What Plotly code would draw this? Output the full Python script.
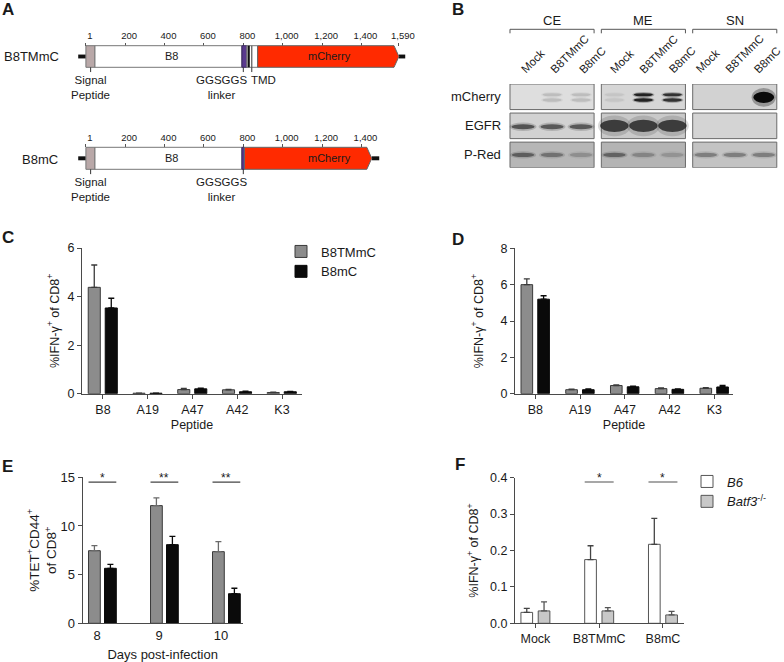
import plotly.graph_objects as go

W, H = 784, 662
FONT = "Liberation Sans, Arial, sans-serif"
TXT = "#1a1a1a"
AX = "#4a4a4a"

# ---------------- DATA ----------------
# Panel A: construct maps (residue coordinates)
a_ticks_top = [1, 200, 400, 600, 800, 1000, 1200, 1400, 1590]
a_ticklabels_top = ["1", "200", "400", "600", "800", "1,000", "1,200", "1,400", "1,590"]
a_ticks_bot = [1, 200, 400, 600, 800, 1000, 1200, 1400]
a_ticklabels_bot = ["1", "200", "400", "600", "800", "1,000", "1,200", "1,400"]
stub_left = [-38, 1]
signal_peptide = [1, 47]
b8_domain = [47, 793]
b8tmmc_linker = [793, 818]
b8tmmc_tmd = [818, 873]
b8tmmc_tmd_core = [822, 833]
b8tmmc_tmd_edge = 843
b8tmmc_mcherry = [873, 1590]
b8tmmc_stub_right = [1590, 1622]
b8mc_linker = [793, 806]
b8mc_mcherry = [806, 1452]
b8mc_stub_right = [1452, 1490]
arrow_head = 25
pointer_signal = 25
pointer_linker = 800
pointer_tmd = 843

# Panel B: western blot (relative band intensities per group x lane)
blot_groups = ["CE", "ME", "SN"]
blot_lanes = ["Mock", "B8TMmC", "B8mC"]
blot_rows = ["mCherry", "EGFR", "P-Red"]
blot_mcherry = [[0.0, 0.13, 0.13], [0.06, 0.9, 0.8], [0.0, 0.0, 1.0]]
blot_egfr = [[0.8, 0.75, 0.75], [1.0, 1.0, 1.0], [0.0, 0.0, 0.0]]
blot_pred = [[0.6, 0.45, 0.25], [0.55, 0.3, 0.2], [0.4, 0.4, 0.4]]
blot_bg = [["#dedede", "#d6d6d6", "#d2d2d2"],
           ["#d2d2d2", "#c9c9c9", "#d4d4d4"],
           ["#b6b6b6", "#b4b4b4", "#c3c3c3"]]

# Panel C
peptides = ["B8", "A19", "A47", "A42", "K3"]
c_b8tmmc = [4.38, 0.02, 0.17, 0.16, 0.05]
c_b8tmmc_err = [0.92, 0.005, 0.05, 0.02, 0.01]
c_b8mc = [3.53, 0.02, 0.20, 0.08, 0.08]
c_b8mc_err = [0.40, 0.005, 0.03, 0.02, 0.01]

# Panel D
d_b8tmmc = [6.0, 0.22, 0.45, 0.28, 0.30]
d_b8tmmc_err = [0.32, 0.03, 0.03, 0.04, 0.03]
d_b8mc = [5.2, 0.22, 0.38, 0.24, 0.37]
d_b8mc_err = [0.19, 0.04, 0.04, 0.03, 0.08]

# Panel E
days = [8, 9, 10]
e_b8tmmc = [7.46, 12.09, 7.36]
e_b8tmmc_err = [0.52, 0.79, 1.03]
e_b8mc = [5.65, 8.08, 3.04]
e_b8mc_err = [0.41, 0.86, 0.56]
e_sig = ["*", "**", "**"]
e_sig_level = 14.5

# Panel F
f_groups = ["Mock", "B8TMmC", "B8mC"]
f_b6 = [0.030, 0.175, 0.217]
f_b6_err = [0.011, 0.038, 0.071]
f_batf3 = [0.034, 0.034, 0.023]
f_batf3_err = [0.025, 0.009, 0.010]
f_sig = ["", "*", "*"]
f_sig_level = 0.388

# ---------------- helpers ----------------
def px_x(p):
    return p / W

def px_y(p):
    return 1 - p / H

def dom_x(a, b):
    return [px_x(a), px_x(b)]

def dom_y(top, bottom):
    return [px_y(bottom), px_y(top)]

shapes = []
annotations = []

def ann(text, x, y, xref="paper", yref="paper", size=12.5, **kw):
    d = dict(text=text, x=x, y=y, xref=xref, yref=yref, showarrow=False,
             xanchor="center", yanchor="middle",
             font=dict(size=size, color=TXT, family=FONT))
    d.update(kw)
    annotations.append(d)

fig = go.Figure()

# ---------------- Panel A ----------------
A_XDOM = (70, 410)
A_SCALE = 0.197
A_REF_PX, A_REF_U = 243.3, 800
a_xrange = [A_REF_U + (A_XDOM[0] - A_REF_PX) / A_SCALE,
            A_REF_U + (A_XDOM[1] - A_REF_PX) / A_SCALE]

def a_yrange(dom_top, dom_bot, bar_top, bar_bot):
    s = bar_bot - bar_top
    return [-0.5 - (dom_bot - bar_bot) / s, 0.5 + (bar_top - dom_top) / s]

def rect(xr, yr, x0, x1, y0, y1, fill, line="#666666", lw=1):
    shapes.append(dict(type="rect", xref=xr, yref=yr, x0=x0, x1=x1, y0=y0, y1=y1,
                       fillcolor=fill, line=dict(color=line, width=lw), layer="above"))

def vline(xr, yr, x, y0, y1, color="#333333", lw=1):
    shapes.append(dict(type="line", xref=xr, yref=yr, x0=x, x1=x, y0=y0, y1=y1,
                       line=dict(color=color, width=lw), layer="above"))

def construct(xr, yr, linker, mcherry, stub_r, tmd=None):
    rect(xr, yr, stub_left[0], stub_left[1], -0.09, 0.09, "#111111", "#111111", 0)
    rect(xr, yr, stub_r[0], stub_r[1], -0.09, 0.09, "#111111", "#111111", 0)
    rect(xr, yr, signal_peptide[0], signal_peptide[1], -0.5, 0.5, "#b9a8a8", "#777777")
    rect(xr, yr, b8_domain[0], b8_domain[1], -0.5, 0.5, "#ffffff", "#777777")
    rect(xr, yr, linker[0], linker[1], -0.5, 0.5, "#5a3a8e", "#3a2a60")
    if tmd is not None:
        rect(xr, yr, tmd[0], tmd[1], -0.5, 0.5, "#ffffff", "#777777")
        rect(xr, yr, b8tmmc_tmd_core[0], b8tmmc_tmd_core[1], -0.5, 0.5, "#111111", "#111111", 0)
        vline(xr, yr, b8tmmc_tmd_edge, -0.5, 0.5, "#555555", 1.2)
    m0, m1 = mcherry
    path = (f"M {m0},-0.5 L {m1 - arrow_head},-0.5 L {m1},0 "
            f"L {m1 - arrow_head},0.5 L {m0},0.5 Z")
    shapes.append(dict(type="path", xref=xr, yref=yr, path=path, fillcolor="#ff2a00",
                       line=dict(color="#666666", width=1), layer="above"))

def a_xaxis(ticks, labels, pos_px):
    return dict(domain=dom_x(*A_XDOM), range=a_xrange, side="top", anchor="free",
                position=px_y(pos_px), showline=False, showgrid=False, zeroline=False,
                ticks="outside", ticklen=3, tickcolor="#555", tickwidth=1,
                tickvals=ticks, ticktext=labels, ticklabelshift=4, automargin=False,
                tickfont=dict(size=9.5, color=TXT, family=FONT))

top_dom = (28, 105)
top_bar = (45.7, 67.3)
bot_dom = (130, 207)
bot_bar = (147.3, 169.3)
fig.update_layout(
    xaxis=a_xaxis(a_ticks_top, a_ticklabels_top, top_bar[0]),
    yaxis=dict(domain=dom_y(*top_dom), range=a_yrange(*top_dom, *top_bar), visible=False,
               anchor="x", automargin=False),
    xaxis2=a_xaxis(a_ticks_bot, a_ticklabels_bot, bot_bar[0]),
    yaxis2=dict(domain=dom_y(*bot_dom), range=a_yrange(*bot_dom, *bot_bar), visible=False,
                anchor="x2", automargin=False),
)
construct("x", "y", b8tmmc_linker, b8tmmc_mcherry, b8tmmc_stub_right, tmd=b8tmmc_tmd)
construct("x2", "y2", b8mc_linker, b8mc_mcherry, b8mc_stub_right)

for xr, yr in (("x", "y"), ("x2", "y2")):
    vline(xr, yr, pointer_signal, -0.5, -0.72, "#333333", 1)
    vline(xr, yr, pointer_linker, -0.5, -0.72, "#333333", 1)
    ann("B8", 437, 0, xr, yr, size=11)
    ann("mCherry", 1240, 0, xr, yr, size=11)
    ann("Signal<br>Peptide", 22, -0.72, xr, yr, size=11.5, yanchor="top")
    ann("GGSGGS<br>linker", 690, -0.72, xr, yr, size=11.5, yanchor="top")
vline("x", "y", pointer_tmd, -0.5, -0.72, "#333333", 1)
ann("TMD", 900, -0.72, "x", "y", size=11.5, yanchor="top")
ann("B8TMmC", px_x(32), px_y(56.7), size=13)
ann("B8mC", px_x(40), px_y(159.3), size=13)

# ---------------- Panel B ----------------
B_XDOM = (505, 780)
lane_px = 29.0
group_step = 3.15
lane_label_shift = [-7, -9, -15]
b_xrange = [-0.622, -0.622 + (B_XDOM[1] - B_XDOM[0]) / lane_px]
fig.update_layout(
    xaxis3=dict(domain=dom_x(*B_XDOM), range=b_xrange, visible=False, anchor="y3",
                automargin=False),
    yaxis3=dict(domain=dom_y(84, 167.7), range=[2.44, -0.44], visible=False, anchor="x3",
                automargin=False),
)

def band(xc, yc, w, h, a, color="20,20,20", halo=0.3):
    if a <= 0:
        return
    shapes.append(dict(type="circle", xref="x3", yref="y3", x0=xc - w * 0.58, x1=xc + w * 0.58,
                       y0=yc - h * 0.85, y1=yc + h * 0.85,
                       fillcolor=f"rgba({color},{a * halo:.3f})",
                       line=dict(width=0), layer="above"))
    shapes.append(dict(type="circle", xref="x3", yref="y3", x0=xc - w / 2, x1=xc + w / 2,
                       y0=yc - h / 2, y1=yc + h / 2, fillcolor=f"rgba({color},{a:.3f})",
                       line=dict(width=0), layer="above"))

for gi, g in enumerate(blot_groups):
    gc = gi * group_step + 1
    for ri, r in enumerate(blot_rows):
        shapes.append(dict(type="rect", xref="x3", yref="y3", x0=gc - 1.45, x1=gc + 1.45,
                           y0=ri - 0.44, y1=ri + 0.44, fillcolor=blot_bg[ri][gi],
                           line=dict(color="#6a6a6a", width=1), layer="below"))
    shapes.append(dict(type="path", xref="x3", yref="paper",
                       path=f"M {gc - 1.45},{px_y(33.3)} L {gc - 1.45},{px_y(29.3)} "
                            f"L {gc + 1.45},{px_y(29.3)} L {gc + 1.45},{px_y(33.3)}",
                       line=dict(color="#555555", width=1)))
    ann(g, gc, px_y(20.7), "x3", "paper", size=13)
    for li, lane in enumerate(blot_lanes):
        lx = gi * group_step + li
        ann(lane, lx, px_y(78), "x3", "paper", size=11.5, textangle=-45,
            xanchor="left", yanchor="bottom", xshift=lane_label_shift[gi])
        a = blot_mcherry[gi][li]
        if gi < 2:
            band(lx, -0.07, 0.66, 0.11, a)
            band(lx, 0.11, 0.66, 0.12, a)
        else:
            band(lx, 0.02, 0.72, 0.38, a, "10,10,10")
        a = blot_egfr[gi][li]
        if gi == 1:
            band(lx, 1.0, 0.98, 0.42, a * 0.85, "40,40,40", halo=0.2)
        else:
            band(lx, 1.03, 0.8, 0.17, a * 0.85, "40,40,40")
        band(lx, 2.0, 0.78, 0.15, blot_pred[gi][li], "50,50,50")

for ri, r in enumerate(blot_rows):
    ann(r, px_x(503), ri, "paper", "y3", size=13, xanchor="right")

# ---------------- bar panels ----------------
GRAY = "#8c8c8c"
BLACK = "#0a0a0a"
LIGHT = "#c8c8c8"

def axis_common(**kw):
    d = dict(showgrid=False, zeroline=False, showline=True, linecolor=AX, linewidth=1.2,
             ticks="outside", ticklen=4, tickwidth=1.2, tickcolor=AX, automargin=False,
             tickfont=dict(size=12.5, color=TXT, family=FONT))
    d.update(kw)
    return d

def err(vals, color):
    return dict(type="data", symmetric=False, array=vals, arrayminus=[0] * len(vals),
                color=color, thickness=1.3, width=3)

def bars(x, y, e, xa, ya, color, edge, ecolor, name, off, wid, showlegend, legend="legend"):
    fig.add_trace(go.Bar(x=x, y=y, xaxis=xa, yaxis=ya, name=name, offset=off, width=wid,
                         marker=dict(color=color, line=dict(color=edge, width=1)),
                         error_y=err(e, ecolor), showlegend=showlegend, legend=legend))

ytitle_ifn = "%IFN-γ<sup>+</sup> of CD8<sup>+</sup>"

# C
idx = list(range(len(peptides)))
bars(idx, c_b8tmmc, c_b8tmmc_err, "x4", "y4", GRAY, "#3a3a3a", "#3a3a3a", "B8TMmC", -0.33, 0.27, True)
bars(idx, c_b8mc, c_b8mc_err, "x4", "y4", BLACK, BLACK, BLACK, "B8mC", 0.05, 0.27, True)
fig.update_layout(
    xaxis4=axis_common(domain=dom_x(82, 302), range=[-0.469, 4.447], anchor="y4",
                       tickvals=idx, ticktext=peptides,
                       title=dict(text="Peptide", standoff=4, font=dict(size=12.5))),
    yaxis4=axis_common(domain=dom_y(248, 393.7), range=[0, 6], anchor="x4",
                       tickvals=[0, 2, 4, 6],
                       title=dict(text=ytitle_ifn, standoff=5, font=dict(size=12.5))),
)

# D
bars(idx, d_b8tmmc, d_b8tmmc_err, "x5", "y5", GRAY, "#3a3a3a", "#3a3a3a", "B8TMmC", -0.32, 0.26, False)
bars(idx, d_b8mc, d_b8mc_err, "x5", "y5", BLACK, BLACK, BLACK, "B8mC", 0.055, 0.26, False)
fig.update_layout(
    xaxis5=axis_common(domain=dom_x(515, 733), range=[-0.454, 4.418], anchor="y5",
                       tickvals=idx, ticktext=peptides,
                       title=dict(text="Peptide", standoff=4, font=dict(size=12.5))),
    yaxis5=axis_common(domain=dom_y(248.3, 393.7), range=[0, 8], anchor="x5",
                       tickvals=[0, 2, 4, 6, 8],
                       title=dict(text=ytitle_ifn, standoff=14, font=dict(size=12.5))),
)

# E
bars(days, e_b8tmmc, e_b8tmmc_err, "x6", "y6", GRAY, "#3a3a3a", "#6a6a6a", "B8TMmC", -0.137, 0.19, False)
bars(days, e_b8mc, e_b8mc_err, "x6", "y6", BLACK, BLACK, BLACK, "B8mC", 0.121, 0.19, False)
fig.update_layout(
    xaxis6=axis_common(domain=dom_x(82.7, 242.7), range=[7.769, 10.35], anchor="y6",
                       tickvals=days, ticktext=[str(d) for d in days], ticks="",
                       tickfont=dict(size=13, color=TXT, family=FONT),
                       title=dict(text="Days post-infection", standoff=11, font=dict(size=13))),
    yaxis6=axis_common(domain=dom_y(477.3, 623.3), range=[0, 15], anchor="x6",
                       tickvals=[0, 5, 10, 15],
                       tickfont=dict(size=13, color=TXT, family=FONT),
                       title=dict(text="%TET<sup>+</sup>CD44<sup>+</sup><br>of CD8<sup>+</sup>",
                                  standoff=0, font=dict(size=13.5))),
)
for d, s in zip(days, e_sig):
    shapes.append(dict(type="line", xref="x6", yref="y6", x0=d - 0.137, x1=d + 0.311,
                       y0=e_sig_level, y1=e_sig_level, line=dict(color="#444444", width=1.3)))
    ann(s, d + 0.087, e_sig_level, "x6", "y6", size=12, yshift=4)

# F
fidx = list(range(len(f_groups)))
bars(fidx, f_b6, f_b6_err, "x7", "y7", "#ffffff", "#555555", "#444444", "<i>B6</i>", -0.227, 0.183, True, "legend2")
bars(fidx, f_batf3, f_batf3_err, "x7", "y7", LIGHT, "#555555", "#555555",
     "<i>Batf3</i><sup>-/-</sup>", 0.044, 0.183, True, "legend2")
fig.update_layout(
    xaxis7=axis_common(domain=dom_x(515, 684), range=[-0.32, 2.33], anchor="y7",
                       tickvals=fidx, ticktext=f_groups),
    yaxis7=axis_common(domain=dom_y(477.7, 623.3), range=[0, 0.4], anchor="x7",
                       tickvals=[0, 0.1, 0.2, 0.3, 0.4], tickformat=".1f",
                       title=dict(text=ytitle_ifn, standoff=8, font=dict(size=12.5))),
)
for i, s in zip(fidx, f_sig):
    if not s:
        continue
    shapes.append(dict(type="line", xref="x7", yref="y7", x0=i - 0.227, x1=i + 0.227,
                       y0=f_sig_level, y1=f_sig_level, line=dict(color="#8a8a8a", width=1.5)))
    ann(s, i, f_sig_level, "x7", "y7", size=12, yshift=4)

# panel letters
for letter, x, y in (("A", 8, 9), ("B", 458, 9), ("C", 7.5, 237.5), ("D", 458, 239),
                     ("E", 8, 466), ("F", 459.5, 464)):
    ann(f"<b>{letter}</b>", px_x(x), px_y(y), size=17)

fig.update_layout(
    template="none",
    width=W, height=H, margin=dict(l=0, r=0, t=0, b=0, pad=0, autoexpand=False),
    paper_bgcolor="white", plot_bgcolor="white",
    font=dict(family=FONT, color=TXT, size=12.5),
    barmode="overlay", hovermode=False,
    shapes=shapes, annotations=annotations,
    legend=dict(x=px_x(281), y=px_y(236.5), xanchor="left", yanchor="top",
                font=dict(size=13, family=FONT, color=TXT), bgcolor="rgba(0,0,0,0)",
                tracegroupgap=0, borderwidth=0),
    legend2=dict(x=px_x(687), y=px_y(466.5), xanchor="left", yanchor="top",
                 font=dict(size=13, family=FONT, color=TXT), bgcolor="rgba(0,0,0,0)",
                 tracegroupgap=0, borderwidth=0),
)

# the page body would otherwise add an 8px default margin around the figure
fig.write_html("out.html", config={"displayModeBar": False},
               post_script="document.body.style.margin='0px';")
